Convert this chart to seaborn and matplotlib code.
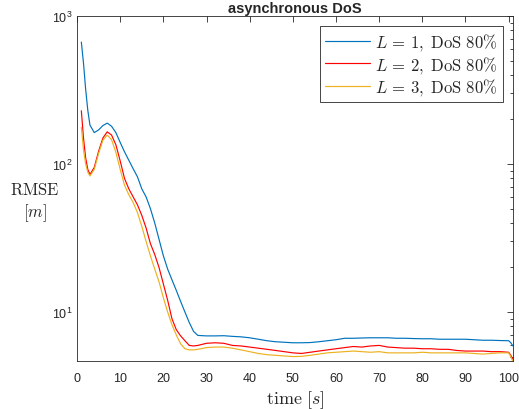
import numpy as np
import pandas as pd
import matplotlib
matplotlib.use("Agg")
import matplotlib.pyplot as plt
import matplotlib.ticker as mticker
import seaborn as sns

# values
time = [1, 1.5, 2, 2.5, 3, 4, 5, 6, 7, 8, 9, 10, 11, 12, 13, 14, 15, 16, 17, 18,
        19, 20, 21, 22, 23, 24, 25, 26, 27, 28, 30, 32, 34, 36, 38, 40, 42, 44, 46, 48,
        50, 52, 54, 56, 58, 60, 62, 64, 66, 68, 70, 72, 74, 76, 78, 80, 82, 84, 86, 88,
        90, 92, 94, 96, 98, 100, 100.5, 101]

rmse_l1 = [667, 480, 320, 230, 183, 163, 170, 182, 189, 180, 163, 140, 121, 106, 93, 82, 68, 60, 50, 40,
           31, 24, 19.5, 16.5, 14, 11.8, 10, 8.5, 7.4, 6.95, 6.9, 6.9, 6.92, 6.85, 6.8, 6.7, 6.55, 6.4, 6.3, 6.25,
           6.2, 6.2, 6.22, 6.3, 6.4, 6.5, 6.65, 6.65, 6.68, 6.7, 6.7, 6.7, 6.65, 6.65, 6.62, 6.6, 6.6, 6.55, 6.55, 6.55,
           6.55, 6.5, 6.45, 6.45, 6.42, 6.4, 6.2, 5.9]

rmse_l2 = [229, 150, 110, 92, 85, 95, 122, 150, 165, 157, 135, 105, 80, 68, 60, 53, 45, 37, 29, 24.5,
           20, 15.5, 12, 9, 7.6, 6.9, 6.4, 5.95, 5.9, 5.95, 6.15, 6.2, 6.15, 5.95, 5.9, 5.8, 5.7, 5.6, 5.5, 5.4,
           5.3, 5.25, 5.35, 5.45, 5.55, 5.65, 5.75, 5.85, 5.8, 5.9, 5.95, 5.8, 5.75, 5.7, 5.7, 5.65, 5.65, 5.6, 5.6, 5.5,
           5.45, 5.45, 5.45, 5.4, 5.4, 5.35, 5.1, 4.8]

rmse_l3 = [177, 125, 100, 88, 83, 92, 118, 145, 157, 146, 120, 92, 72, 62, 55, 47, 38, 30, 24, 19.5,
           16, 12.5, 10, 8.2, 7, 6.1, 5.65, 5.55, 5.55, 5.6, 5.75, 5.8, 5.8, 5.7, 5.55, 5.4, 5.25, 5.15, 5.1, 5.05,
           5.0, 5.02, 5.1, 5.2, 5.3, 5.35, 5.4, 5.45, 5.4, 5.35, 5.4, 5.3, 5.3, 5.3, 5.3, 5.35, 5.3, 5.3, 5.3, 5.3,
           5.3, 5.25, 5.2, 5.25, 5.3, 5.3, 5.0, 4.6]

labels = [r'$L\,=\,1,\ \mathrm{DoS}\ 80\%$', r'$L\,=\,2,\ \mathrm{DoS}\ 80\%$', r'$L\,=\,3,\ \mathrm{DoS}\ 80\%$']
colors = ['#0072BD', '#FF0000', '#EDB120']

df = pd.DataFrame({
    'time': time * 3,
    'rmse': rmse_l1 + rmse_l2 + rmse_l3,
    'series': [labels[0]] * len(time) + [labels[1]] * len(time) + [labels[2]] * len(time),
})

sns.set_style('white')
plt.rcParams['font.family'] = ['Liberation Sans', 'DejaVu Sans']
plt.rcParams['mathtext.fontset'] = 'cm'

fig = plt.figure(figsize=(5.19, 4.10), dpi=100)
ax = fig.add_axes([0.1484, 0.1171, 0.8400, 0.8414])

sns.lineplot(data=df, x='time', y='rmse', hue='series', palette=colors,
             linewidth=0.85, ax=ax, sort=False)

ax.set_yscale('log')
ax.set_xlim(0, 101)
ax.set_ylim(4.67, 1000)
ax.set_xticks(np.arange(0, 101, 10))
ax.yaxis.set_major_locator(mticker.LogLocator(base=10, numticks=10))
ax.yaxis.set_minor_locator(mticker.LogLocator(base=10, subs=np.arange(2, 10), numticks=10))
ax.yaxis.set_major_formatter(mticker.FuncFormatter(
    lambda v, p: r'$\mathregular{10^{%d}}$' % int(round(np.log10(v)))))
ax.yaxis.set_minor_formatter(mticker.NullFormatter())

ax.tick_params(which='both', direction='in', top=True, right=True, colors='#262626',
               labelcolor='#262626', labelsize=9, width=0.6)
ax.tick_params(which='major', length=4)
ax.tick_params(which='minor', length=2.5)
ax.tick_params(axis='x', pad=8)
for s in ax.spines.values():
    s.set_color('#262626')
    s.set_linewidth(0.6)

ax.set_title('asynchronous DoS', fontsize=10.5, fontweight='bold', pad=3)
ax.set_xlabel(r'$\mathrm{time}\ [s]$', fontsize=13, labelpad=3)
ax.set_ylabel(r'$\mathrm{RMSE}$' + '\n' + r'$[m]$', fontsize=12, rotation=0,
              ha='center', va='center', linespacing=1.3)
ax.yaxis.set_label_coords(-0.096, 0.46)

handles, _ = ax.get_legend_handles_labels()
leg = ax.legend(handles, labels, loc='upper right', fontsize=12, frameon=True,
                fancybox=False, edgecolor='#262626', framealpha=1,
                handlelength=2.7, handletextpad=0.3, borderpad=0.3,
                labelspacing=0.1, borderaxespad=0.6)
leg.get_frame().set_linewidth(0.6)

plt.savefig('out.png', dpi=100)
